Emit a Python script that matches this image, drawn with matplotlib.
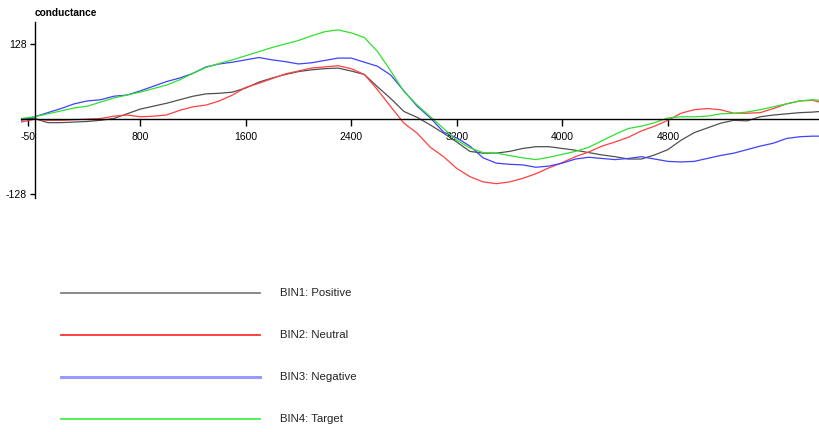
import matplotlib
matplotlib.use("Agg")
import matplotlib.pyplot as plt
from matplotlib.lines import Line2D

# time axis (ms)
t = [-100, 0, 100, 200, 300, 400, 500, 600, 700, 800, 900, 1000, 1100, 1200, 1300,
     1400, 1500, 1600, 1700, 1800, 1900, 2000, 2100, 2200, 2300, 2400, 2500, 2600,
     2700, 2800, 2900, 3000, 3100, 3200, 3300, 3400, 3500, 3600, 3700, 3800, 3900,
     4000, 4100, 4200, 4300, 4400, 4500, 4600, 4700, 4800, 4900, 5000, 5100, 5200,
     5300, 5400, 5500, 5600, 5700, 5800, 5900, 5950]

bin1_positive = [1, 1, -6, -6, -5, -4, -2, 1, 9, 17, 22, 27, 33, 39, 43,
                 44, 46, 53, 63, 70, 76, 81, 84, 86, 87, 82, 76, 55,
                 35, 13, 3, -10, -24, -39, -55, -58, -58, -55, -50, -47, -47,
                 -50, -53, -57, -61, -64, -68, -68, -61, -52, -36, -23, -15, -7,
                 -2, -3, 4, 7, 9, 11, 12, 13]

bin2_neutral = [-5, 0, -2, -2, -1, 0, 1, 5, 7, 4, 5, 7, 15, 21, 24,
                31, 41, 54, 61, 69, 77, 82, 87, 89, 91, 86, 76, 50,
                21, -7, -24, -48, -64, -84, -98, -107, -110, -107, -101, -93, -83,
                -74, -64, -56, -46, -39, -31, -20, -12, -2, 10, 16, 18, 16,
                10, 10, 11, 18, 26, 31, 32, 29]

bin3_negative = [-2, 4, 11, 18, 26, 31, 33, 39, 41, 48, 56, 64, 70, 78, 89,
                 94, 97, 101, 105, 101, 98, 94, 96, 100, 104, 104, 97, 90,
                 75, 48, 22, 2, -22, -32, -46, -66, -75, -77, -78, -82, -80,
                 -75, -68, -65, -67, -69, -67, -64, -68, -72, -73, -72, -67, -62,
                 -58, -52, -46, -41, -33, -30, -29, -29]

bin4_target = [1, 4, 9, 14, 19, 22, 29, 36, 41, 46, 52, 58, 67, 78, 88,
               95, 101, 108, 115, 122, 128, 134, 142, 149, 152, 147, 139, 115,
               82, 47, 24, 4, -16, -36, -49, -57, -58, -62, -66, -69, -65,
               -60, -55, -48, -37, -26, -16, -12, -6, 2, 4, 4, 5, 9,
               10, 12, 16, 21, 26, 31, 33, 32]

labels = ["BIN1: Positive", "BIN2: Neutral", "BIN3: Negative", "BIN4: Target"]
plot_colors = ["#505050", "#ff4040", "#4040ff", "#30e030"]
legend_colors = ["#808080", "#ff3030", "#9999ff", "#44ee44"]
xticks = [-50, 800, 1600, 2400, 3200, 4000, 4800]
yticks = [-128, 128]

FONT = ["Liberation Sans", "DejaVu Sans"]
plt.rcParams["font.family"] = FONT

W, H = 819, 432
fig = plt.figure(figsize=(W / 100, H / 100), dpi=100)

# axes placement in pixels
left_px, right_px = 21.4, 819
top_px, bot_px = 21.7, 198
ax = fig.add_axes([left_px / W, 1 - bot_px / H, (right_px - left_px) / W, (bot_px - top_px) / H])
ax.set_xlim(-100, 5946)
ax.set_ylim(-134.4, 166)

series = [bin1_positive, bin2_neutral, bin3_negative, bin4_target]
for s, c in zip(series, plot_colors):
    ax.plot(t, s, color=c, lw=0.9)

for side in ["top", "right"]:
    ax.spines[side].set_visible(False)
ax.spines["left"].set_position(("data", 0))
ax.spines["bottom"].set_position(("data", 0))
ax.spines["left"].set_color("black")
ax.spines["bottom"].set_color("black")
ax.spines["left"].set_linewidth(1.0)
ax.spines["bottom"].set_linewidth(1.0)

ax.set_xticks(xticks)
ax.set_xticklabels([str(v) for v in xticks])
ax.set_yticks(yticks)
ax.set_yticklabels([str(v) for v in yticks])
ax.tick_params(axis="x", direction="out", length=5, width=1, pad=4, labelsize=7.5, colors="black")
ax.tick_params(axis="y", direction="out", length=3.6, width=1, pad=2, labelsize=7.5, colors="black")
ax.patch.set_alpha(0)

fig.text(35 / W, 1 - 13.5 / H, "conductance", fontsize=7.3, fontweight="bold",
         ha="left", va="center", color="black")

# legend
leg_y = [292.7, 335, 376.7, 419]
for lab, c, y in zip(labels, legend_colors, leg_y):
    lw = 2.2 if c == "#9999ff" else 1.3
    fig.add_artist(Line2D([61 / W, 260 / W], [1 - y / H, 1 - y / H], color=c, lw=lw,
                          transform=fig.transFigure))
    fig.text(280 / W, 1 - y / H, lab, fontsize=8.2, ha="left", va="center", color="#222222")

fig.savefig("out.png", dpi=100)
